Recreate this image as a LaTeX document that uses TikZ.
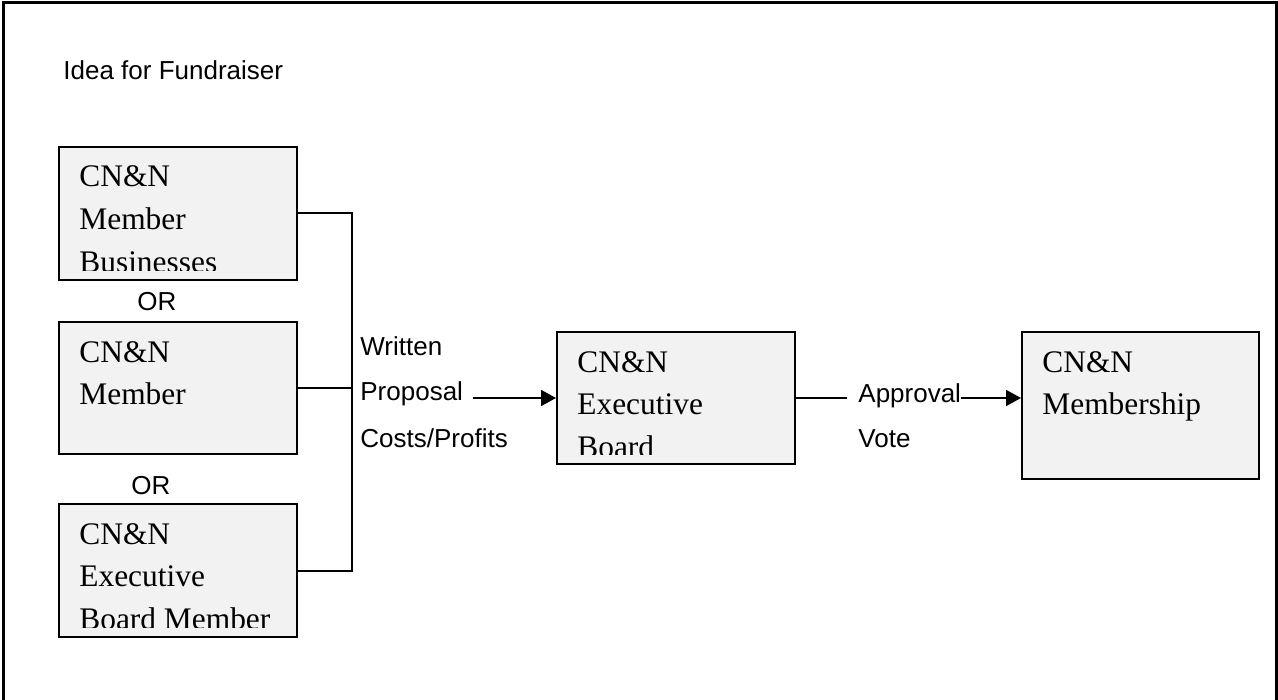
\documentclass[tikz,border=0pt]{standalone}
\usepackage{fontspec}
\setmainfont{Liberation Serif}
\newfontfamily\arialfont{Liberation Sans}
\usetikzlibrary{arrows.meta}
\definecolor{boxfill}{RGB}{242,242,242}
\tikzset{
  label txt/.style={font=\arialfont\fontsize{13pt}{23pt}\selectfont, inner sep=0pt, anchor=base west},
  box txt/.style={font=\fontsize{15.7pt}{21pt}\selectfont, inner sep=0pt, anchor=base west},
  box/.style={draw, line width=1pt, fill=boxfill, anchor=north west, inner sep=0pt,
    minimum width=119pt, minimum height=66.5pt},
  link/.style={line width=1pt},
  arr/.style={line width=0.9pt, -{Triangle[length=7.5pt, width=8pt]}},
}
% righe di testo dentro un riquadro, tagliate in basso
\newcommand{\boxlines}[2]{%
  \begin{scope}
    \clip (#1.north west) rectangle ([yshift=5.5pt]#1.south east);
    \foreach \ln [count=\i] in {#2}
      \node[box txt] (#1-\i) at ([xshift=10.5pt, yshift={-20.5pt-21.25pt*(\i-1)}]#1.north west) {\ln};
  \end{scope}}
\begin{document}
\begin{tikzpicture}[x=0.5pt, y=-0.5pt]
  \useasboundingbox (0,0) rectangle (1278,700);
  % Cornice
  \draw[line width=1.25pt] (3.5,700) -- (3.5,2.5) -- (1276.5,2.5) -- (1276.5,700);

  % Titolo
  \node[label txt] (idea) at (63,80) {Idea for Fundraiser};

  % Chi propone
  \node[box] (b1) at (58,146) {};
  \boxlines{b1}{CN\&N,Member,Businesses}
  \node[label txt] (or1) at (137,310) {OR};
  \node[box, minimum height=66pt] (b2) at (58,321) {};
  \boxlines{b2}{CN\&N,Member}
  \node[label txt] (or2) at (131,494) {OR};
  \node[box] (b3) at (58,503) {};
  \boxlines{b3}{CN\&N,Executive,Board Member}

  % Linea di raccordo
  \coordinate (jtop) at ([xshift=27pt]b1.east);
  \draw[link] (b1.east) -- (jtop) |- (b3.east);
  \draw[link] (b2.east) -- (b2.east -| jtop);

  % Proposta scritta
  \node[label txt] (written) at (360,355) {Written};
  \node[label txt] (proposal) at (360,400) {Proposal};
  \node[label txt] (costs) at (360,447) {Costs/Profits};

  % Consiglio esecutivo
  \node[box, minimum height=66pt] (exec) at (556,331) {};
  \boxlines{exec}{CN\&N,Executive,Board}
  \draw[arr] ([xshift=5pt]proposal.east |- exec.west) -- (exec.west);

  % Voto
  \node[label txt] (approval) at (858,402) {Approval};
  \node[label txt] (vote) at (858,447) {Vote};
  \node[box, minimum width=118.5pt, minimum height=73.5pt] (memb) at (1021,331) {};
  \boxlines{memb}{CN\&N,Membership}
  \draw[link] (exec.east) -- ([xshift=-5.5pt]approval.west |- exec.east);
  \draw[arr] (approval.east |- exec.east) -- (exec.east -| memb.west);
\end{tikzpicture}
\end{document}
